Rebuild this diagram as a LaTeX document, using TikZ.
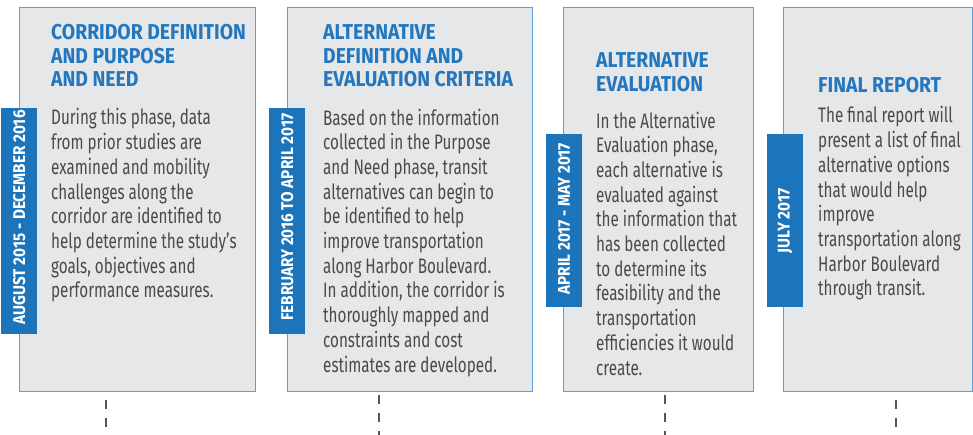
\documentclass[tikz,border=0pt]{standalone}
\usepackage{fontspec}
\setmainfont{Fira Sans}[FakeStretch=0.725]
\newfontfamily\headfont{Fira Sans}[FakeStretch=0.9]
\definecolor{boxfill}{HTML}{E6E7E9}
\definecolor{boxline}{HTML}{5E9FD6}
\definecolor{titleblue}{HTML}{2277BE}
\definecolor{tabblue}{HTML}{1C75BB}
\definecolor{bodygray}{HTML}{4A4A4A}
\definecolor{dashgray}{HTML}{555555}
\tikzset{
  phasebox/.style={draw=boxline, line width=1.2pt, fill=boxfill, anchor=north west, inner sep=0pt},
  datetab/.style={fill=tabblue, anchor=north west, inner sep=0pt, minimum width=36pt},
  datetext/.style={text=white, rotate=90, inner sep=0pt, font=\headfont\fontsize{17}{20}\selectfont\bfseries},
  titletext/.style={text=titleblue, anchor=base west, align=left, inner sep=0pt, font=\headfont\fontsize{21.5}{23.3}\selectfont\bfseries},
  bodytext/.style={text=bodygray, anchor=base west, align=left, inner sep=0pt, font=\fontsize{21}{24.7}\selectfont},
  tick/.style={draw=dashgray, line width=2.4pt, dash pattern=on 9pt off 9pt}
}
\begin{document}
\begin{tikzpicture}[x=1pt,y=-1pt]
\useasboundingbox (0,0) rectangle (973,435);
% boxes
\node[phasebox, minimum width=236pt, minimum height=384pt] (b1) at (19,7) {};
\node[phasebox, minimum width=245pt, minimum height=384pt] (b2) at (287,7) {};
\node[phasebox, minimum width=190pt, minimum height=384pt] (b3) at (563,7) {};
\node[phasebox, minimum width=189pt, minimum height=384pt] (b4) at (783,7) {};
% date tabs
\node[datetab, minimum height=226pt] (t1) at (1,108) {};
\node[datetab, minimum height=226pt] (t2) at (269,108) {};
\node[datetab, minimum height=173pt] (t3) at (546,134) {};
\node[datetab, minimum height=173pt] (t4) at (767,134) {};
\node[datetext] (d1) at ([yshift=4pt]t1.center) {AUGUST 2015 - DECEMBER 2016};
\node[datetext] (d2) at ([yshift=4pt]t2.center) {FEBRUARY 2016 TO APRIL 2017};
\node[datetext] (d3) at ([yshift=2pt]t3.center) {APRIL 2017 - MAY 2017};
\node[datetext] (d4) at ([yshift=0pt]t4.center) {JULY 2017};
% titles (base anchor = last line baseline)
\node[titletext] (h1) at (51,86.6) {CORRIDOR DEFINITION\\AND PURPOSE\\AND NEED};
\node[titletext] (h2) at (323,86.6) {ALTERNATIVE\\DEFINITION AND\\EVALUATION CRITERIA};
\node[titletext] (h3) at (596,91.3) {ALTERNATIVE\\EVALUATION};
\node[titletext] (h4) at (818,93) {FINAL REPORT};
% bodies
\node[bodytext] (p1) at (51,297.9) {During this phase, data\\from prior studies are\\examined and mobility\\challenges along the\\corridor are identified to\\help determine the study’s\\goals, objectives and\\performance measures.};
\node[bodytext] (p2) at (323,372) {Based on the information\\collected in the Purpose\\and Need phase, transit\\alternatives can begin to\\be identified to help\\improve transportation\\along Harbor Boulevard.\\In addition, the corridor is\\thoroughly mapped and\\constraints and cost\\estimates are developed.};
\node[bodytext] (p3) at (596,375) {In the Alternative\\Evaluation phase,\\each alternative is\\evaluated against\\the information that\\has been collected\\to determine its\\feasibility and the\\transportation\\efficiencies it would\\create.};
\node[bodytext] (p4) at (818,295.9) {The final report will\\present a list of final\\alternative options\\that would help\\improve\\transportation along\\Harbor Boulevard\\through transit.};
% ticks
\coordinate (s1) at (106,400);
\coordinate (s2) at (379,395);
\coordinate (s3) at (665,395);
\coordinate (s4) at (896,400);
\coordinate (e1) at (106,435);
\coordinate (e2) at (379,435);
\coordinate (e3) at (665,435);
\coordinate (e4) at (896,435);
\draw[tick] (s1) -- (e1);
\draw[tick] (s2) -- (e2);
\draw[tick] (s3) -- (e3);
\draw[tick] (s4) -- (e4);
\end{tikzpicture}
\end{document}
